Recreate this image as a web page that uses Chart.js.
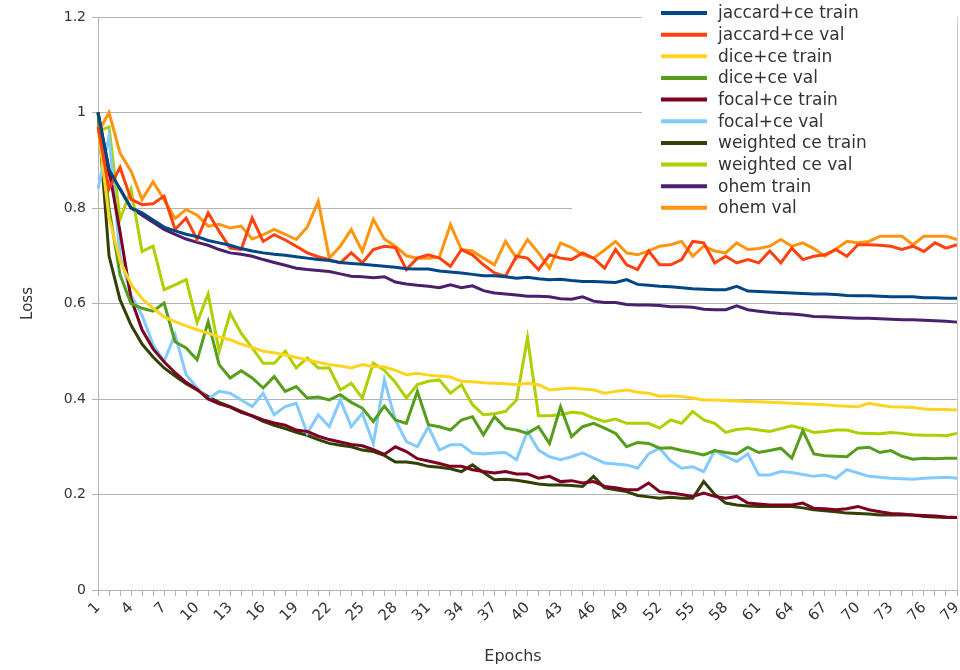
<!DOCTYPE html>
<html>
<head>
<meta charset="utf-8">
<script src="https://cdn.jsdelivr.net/npm/chart.js@4.4.1/dist/chart.umd.min.js"></script>
<style>
  html, body { margin: 0; padding: 0; background: #fff; }
  #wrap { width: 960px; height: 670px; }
</style>
</head>
<body>
<div id="wrap"><canvas id="lossChart" width="960" height="670"></canvas></div>
<script>
// ---- data ----

const EPOCHS = Array.from({ length: 79 }, (_, i) => String(i + 1));

const jaccardTrain = [1.0, 0.88, 0.84, 0.80, 0.79, 0.775, 0.76, 0.752, 0.745, 0.74,
  0.732, 0.727, 0.722, 0.715, 0.71, 0.706, 0.703, 0.701, 0.698, 0.695,
  0.692, 0.69, 0.686, 0.684, 0.682, 0.68, 0.678, 0.676, 0.673, 0.672,
  0.672, 0.668, 0.666, 0.664, 0.661, 0.658, 0.658, 0.656, 0.653, 0.655,
  0.652, 0.65, 0.651, 0.648, 0.646, 0.646, 0.645, 0.644, 0.65, 0.64,
  0.638, 0.636, 0.635, 0.633, 0.631, 0.63, 0.629, 0.629, 0.636, 0.626,
  0.625, 0.624, 0.623, 0.622, 0.621, 0.62, 0.62, 0.619, 0.617, 0.616,
  0.616, 0.615, 0.614, 0.614, 0.614, 0.612, 0.612, 0.611, 0.611];

const jaccardVal = [0.97, 0.84, 0.885, 0.818, 0.807, 0.809, 0.825, 0.755, 0.779, 0.734,
  0.79, 0.751, 0.716, 0.713, 0.779, 0.73, 0.744, 0.733, 0.72, 0.706,
  0.698, 0.692, 0.685, 0.706, 0.685, 0.713, 0.72, 0.717, 0.671, 0.695,
  0.702, 0.695, 0.678, 0.713, 0.702, 0.681, 0.664, 0.657, 0.699, 0.695,
  0.671, 0.702, 0.695, 0.692, 0.706, 0.695, 0.674, 0.713, 0.681, 0.671,
  0.71, 0.681, 0.681, 0.692, 0.73, 0.727, 0.685, 0.699, 0.685, 0.692,
  0.685, 0.71, 0.685, 0.716, 0.692, 0.699, 0.702, 0.713, 0.699, 0.723,
  0.723, 0.722, 0.72, 0.713, 0.72, 0.709, 0.727, 0.716, 0.723];

const diceTrain = [0.97, 0.78, 0.69, 0.64, 0.61, 0.59, 0.572, 0.562, 0.553, 0.545,
  0.538, 0.53, 0.524, 0.515, 0.508, 0.5, 0.497, 0.492, 0.487, 0.482,
  0.477, 0.472, 0.469, 0.465, 0.472, 0.468, 0.467, 0.46, 0.451, 0.454,
  0.45, 0.448, 0.446, 0.437, 0.436, 0.434, 0.433, 0.432, 0.43, 0.433,
  0.43, 0.419, 0.421, 0.423, 0.421, 0.419, 0.412, 0.416, 0.419, 0.414,
  0.412, 0.406, 0.407, 0.405, 0.402, 0.398, 0.398, 0.397, 0.396, 0.395,
  0.394, 0.393, 0.392, 0.391, 0.39, 0.389, 0.388, 0.386, 0.385, 0.384,
  0.391, 0.387, 0.384, 0.383, 0.382, 0.379, 0.378, 0.378, 0.377];

const diceVal = [1.0, 0.80, 0.66, 0.60, 0.59, 0.584, 0.601, 0.52, 0.507, 0.482,
  0.562, 0.472, 0.444, 0.459, 0.444, 0.423, 0.447, 0.416, 0.426, 0.402,
  0.404, 0.398, 0.409, 0.393, 0.381, 0.353, 0.385, 0.356, 0.349, 0.416,
  0.346, 0.342, 0.335, 0.356, 0.363, 0.325, 0.363, 0.339, 0.335, 0.328,
  0.342, 0.307, 0.384, 0.321, 0.342, 0.349, 0.339, 0.328, 0.3, 0.309,
  0.307, 0.297, 0.298, 0.292, 0.288, 0.283, 0.292, 0.288, 0.285, 0.299,
  0.288, 0.292, 0.297, 0.276, 0.334, 0.285, 0.281, 0.28, 0.279, 0.297,
  0.299, 0.288, 0.292, 0.28, 0.274, 0.276, 0.275, 0.276, 0.276];

const focalTrain = [1.0, 0.88, 0.75, 0.61, 0.545, 0.505, 0.478, 0.455, 0.435, 0.42,
  0.4, 0.39, 0.383, 0.372, 0.365, 0.356, 0.35, 0.345, 0.335, 0.332,
  0.322, 0.315, 0.31, 0.305, 0.302, 0.294, 0.284, 0.3, 0.29, 0.275,
  0.27, 0.265, 0.259, 0.259, 0.252, 0.248, 0.245, 0.248, 0.243, 0.243,
  0.234, 0.238, 0.227, 0.229, 0.224, 0.227, 0.217, 0.214, 0.21, 0.21,
  0.224, 0.206, 0.203, 0.2, 0.196, 0.203, 0.196, 0.192, 0.196, 0.182,
  0.18, 0.178, 0.178, 0.178, 0.182, 0.171, 0.17, 0.168, 0.17, 0.175,
  0.168, 0.164, 0.16, 0.159, 0.157, 0.156, 0.155, 0.153, 0.152];

const focalVal = [0.84, 0.95, 0.70, 0.618, 0.575, 0.514, 0.479, 0.535, 0.451, 0.423,
  0.4, 0.416, 0.412, 0.398, 0.384, 0.412, 0.367, 0.384, 0.391, 0.328,
  0.367, 0.342, 0.398, 0.342, 0.37, 0.307, 0.44, 0.356, 0.311, 0.3,
  0.342, 0.293, 0.304, 0.304, 0.287, 0.285, 0.287, 0.288, 0.273, 0.332,
  0.293, 0.279, 0.273, 0.279, 0.287, 0.276, 0.266, 0.264, 0.262, 0.255,
  0.285, 0.297, 0.27, 0.255, 0.258, 0.248, 0.292, 0.28, 0.269, 0.285,
  0.241, 0.241, 0.248, 0.246, 0.242, 0.238, 0.241, 0.234, 0.252, 0.245,
  0.238, 0.236, 0.234, 0.233, 0.232, 0.234, 0.235, 0.236, 0.234];

const weightedTrain = [1.0, 0.70, 0.608, 0.555, 0.515, 0.488, 0.465, 0.448, 0.432, 0.419,
  0.405, 0.393, 0.384, 0.374, 0.364, 0.353, 0.345, 0.338, 0.33, 0.324,
  0.315, 0.307, 0.303, 0.3, 0.293, 0.29, 0.282, 0.268, 0.268, 0.265,
  0.259, 0.257, 0.254, 0.248, 0.262, 0.246, 0.231, 0.232, 0.23, 0.226,
  0.222, 0.22, 0.22, 0.219, 0.217, 0.238, 0.214, 0.21, 0.206, 0.198,
  0.195, 0.192, 0.194, 0.192, 0.192, 0.227, 0.2, 0.182, 0.178, 0.176,
  0.175, 0.175, 0.175, 0.175, 0.172, 0.168, 0.166, 0.164, 0.161, 0.16,
  0.159, 0.157, 0.157, 0.157, 0.157, 0.154, 0.153, 0.152, 0.152];

const weightedVal = [0.96, 0.97, 0.776, 0.839, 0.709, 0.72, 0.629, 0.639, 0.65, 0.56,
  0.62, 0.5, 0.58, 0.538, 0.507, 0.475, 0.475, 0.5, 0.465, 0.486,
  0.465, 0.465, 0.419, 0.433, 0.402, 0.475, 0.46, 0.435, 0.402, 0.43,
  0.437, 0.44, 0.412, 0.43, 0.388, 0.367, 0.369, 0.374, 0.398, 0.528,
  0.365, 0.365, 0.367, 0.372, 0.37, 0.36, 0.353, 0.358, 0.349, 0.349,
  0.349, 0.339, 0.356, 0.349, 0.374, 0.356, 0.349, 0.33, 0.336, 0.338,
  0.335, 0.332, 0.338, 0.344, 0.338, 0.33, 0.332, 0.335, 0.335, 0.329,
  0.328, 0.327, 0.33, 0.328, 0.325, 0.324, 0.324, 0.323, 0.328];

const ohemTrain = [1.0, 0.87, 0.84, 0.80, 0.785, 0.77, 0.755, 0.745, 0.735, 0.728,
  0.722, 0.713, 0.706, 0.703, 0.699, 0.692, 0.686, 0.68, 0.674, 0.671,
  0.669, 0.667, 0.662, 0.657, 0.656, 0.654, 0.656, 0.645, 0.641, 0.638,
  0.636, 0.633, 0.639, 0.633, 0.637, 0.627, 0.622, 0.62, 0.618, 0.615,
  0.615, 0.614, 0.61, 0.609, 0.614, 0.605, 0.602, 0.602, 0.598, 0.597,
  0.597, 0.596, 0.593, 0.593, 0.592, 0.588, 0.587, 0.587, 0.595, 0.587,
  0.584, 0.581, 0.579, 0.578, 0.576, 0.573, 0.572, 0.571, 0.57, 0.569,
  0.569, 0.568, 0.567, 0.566, 0.566, 0.565, 0.564, 0.563, 0.561];

const ohemVal = [0.957, 1.0, 0.915, 0.877, 0.818, 0.855, 0.818, 0.778, 0.797, 0.785,
  0.762, 0.766, 0.758, 0.762, 0.735, 0.744, 0.755, 0.745, 0.734, 0.76,
  0.814, 0.695, 0.72, 0.755, 0.709, 0.776, 0.735, 0.72, 0.7, 0.695,
  0.695, 0.697, 0.765, 0.713, 0.71, 0.695, 0.681, 0.73, 0.695, 0.734,
  0.706, 0.674, 0.727, 0.717, 0.702, 0.695, 0.712, 0.73, 0.706, 0.702,
  0.71, 0.72, 0.723, 0.73, 0.699, 0.72, 0.71, 0.706, 0.727, 0.713,
  0.715, 0.72, 0.734, 0.72, 0.727, 0.715, 0.699, 0.714, 0.73, 0.727,
  0.73, 0.741, 0.741, 0.741, 0.723, 0.741, 0.741, 0.741, 0.734];

const SERIES_NAMES = ['jaccard+ce train', 'jaccard+ce val', 'dice+ce train', 'dice+ce val',
  'focal+ce train', 'focal+ce val', 'weighted ce train', 'weighted ce val', 'ohem train', 'ohem val'];
const SERIES_DATA = [jaccardTrain, jaccardVal, diceTrain, diceVal,
  focalTrain, focalVal, weightedTrain, weightedVal, ohemTrain, ohemVal];
const SERIES_COLORS = ['#004586', '#ff420e', '#ffd320', '#579d1c',
  '#7e0021', '#83caff', '#314004', '#aecf00', '#4b1f6f', '#ff950e'];

const FONT = '"DejaVu Sans", Verdana, sans-serif';
const GRID = '#b3b3b3';
const TEXT = '#333333';

// legend sits on top of the plot, top right, on a white box;
// the x axis title is drawn here too, a bit left of the plot centre as in the original
const overlayLegend = {
  id: 'overlayLegend',
  afterDraw(chart) {
    const ctx = chart.ctx;
    const area = chart.chartArea;
    ctx.save();
    // thin right border of the plot
    ctx.strokeStyle = '#c8c8c8';
    ctx.lineWidth = 1;
    ctx.beginPath();
    ctx.moveTo(area.right + 0.5, area.top);
    ctx.lineTo(area.right + 0.5, area.bottom);
    ctx.stroke();

    ctx.fillStyle = '#ffffff';
    ctx.fillRect(642, 0, area.right - 642, 150);
    ctx.fillRect(572, 150, area.right - 572, 69);

    ctx.font = '17px ' + FONT;
    ctx.textBaseline = 'middle';
    ctx.textAlign = 'left';
    chart.data.datasets.forEach((ds, i) => {
      const y = 13 + i * 21.65;
      ctx.strokeStyle = ds.borderColor;
      ctx.lineWidth = 4;
      ctx.beginPath();
      ctx.moveTo(661, y);
      ctx.lineTo(707, y);
      ctx.stroke();
      ctx.fillStyle = TEXT;
      ctx.fillText(ds.label, 718, y + 1);
    });

    ctx.font = '16px ' + FONT;
    ctx.textAlign = 'center';
    ctx.fillText('Epochs', 513, 657);
    ctx.restore();
  }
};

new Chart(document.getElementById('lossChart'), {
  type: 'line',
  data: {
    labels: EPOCHS,
    datasets: SERIES_NAMES.map((name, i) => ({
      label: name,
      data: SERIES_DATA[i],
      borderColor: SERIES_COLORS[i],
      backgroundColor: SERIES_COLORS[i],
      borderWidth: 3,
      pointRadius: 0,
      tension: 0,
      fill: false,
    })),
  },
  options: {
    responsive: false,
    animation: false,
    devicePixelRatio: 1,
    layout: { padding: { top: 17, right: 3, left: 0, bottom: 0 } },
    plugins: { legend: { display: false }, tooltip: { enabled: false } },
    scales: {
      x: {
        offset: false,
        grid: { drawOnChartArea: false, drawTicks: true, tickLength: 6, color: GRID },
        border: { color: GRID },
        ticks: {
          autoSkip: false,
          minRotation: 45,
          maxRotation: 45,
          padding: 3,
          color: TEXT,
          font: { family: FONT, size: 15 },
          callback: (v, i) => (i % 3 === 0 ? EPOCHS[i] : ''),
        },
        afterFit: s => { s.height = 80; s.paddingLeft = 0; s.paddingRight = 0; },
      },
      y: {
        min: 0,
        max: 1.2,
        grid: { color: GRID, tickLength: 6 },
        border: { color: GRID },
        ticks: {
          stepSize: 0.2,
          padding: 6,
          color: TEXT,
          font: { family: FONT, size: 14 },
          callback: v => String(+v.toFixed(1)),
        },
        title: { display: true, text: 'Loss', color: TEXT, font: { family: FONT, size: 15 }, padding: { top: 19, bottom: 4 } },
        afterFit: s => { s.width = 98; },
      },
    },
  },
  plugins: [overlayLegend],
});
</script>
</body>
</html>
